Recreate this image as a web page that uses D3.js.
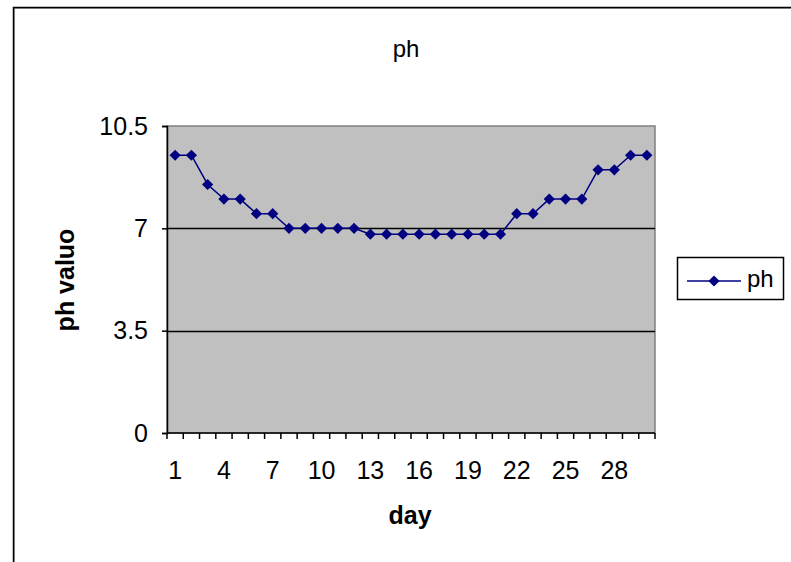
<!DOCTYPE html>
<html>
<head>
<meta charset="utf-8">
<script src="https://cdn.jsdelivr.net/npm/d3@7"></script>
<style>
  html, body { margin: 0; padding: 0; background: #fff; }
  svg { display: block; font-family: "Liberation Sans", Arial, sans-serif; }
</style>
</head>
<body>
<svg id="chart" width="791" height="562"></svg>
<script>
const days = d3.range(1, 31);
const phValues = [9.5, 9.5, 8.5, 8, 8, 7.5, 7.5, 7, 7, 7, 7, 7, 6.8, 6.8, 6.8, 6.8, 6.8, 6.8, 6.8, 6.8, 6.8, 7.5, 7.5, 8, 8, 8, 9, 9, 9.5, 9.5];
const yTicks = [0, 3.5, 7, 10.5];
const xLabelDays = [1, 4, 7, 10, 13, 16, 19, 22, 25, 28];
const seriesName = "ph";

const FONT = "Liberation Sans, Arial, sans-serif";
const svg = d3.select("#chart");
const W = 791, H = 562;
const plot = { left: 167, right: 655, top: 126, bottom: 433 };

// outer border with shadow
svg.append("rect").attr("x", 14.5).attr("y", 8.5).attr("width", W).attr("height", H).attr("fill", "none").attr("stroke", "#a0a0a0").attr("stroke-width", 1);
svg.append("rect").attr("x", 13.5).attr("y", 7.5).attr("width", W).attr("height", H).attr("fill", "none").attr("stroke", "#000").attr("stroke-width", 1.5);

const x = d3.scaleBand().domain(days).range([plot.left, plot.right]).padding(0);
const y = d3.scaleLinear().domain([0, 10.5]).range([plot.bottom, plot.top]);

// plot area
svg.append("rect")
  .attr("x", plot.left).attr("y", plot.top)
  .attr("width", plot.right - plot.left).attr("height", plot.bottom - plot.top)
  .attr("fill", "#c0c0c0").attr("stroke", "#808080").attr("stroke-width", 1.5);

// gridlines
svg.append("g").selectAll("line").data(yTicks.filter(t => t > 0 && t < 10.5)).join("line")
  .attr("x1", plot.left).attr("x2", plot.right)
  .attr("y1", d => Math.round(y(d)) + 0.5).attr("y2", d => Math.round(y(d)) + 0.5)
  .attr("stroke", "#000").attr("stroke-width", 1.5);

// y axis
const yAxis = d3.axisLeft(y).tickValues(yTicks).tickSize(5).tickPadding(14).tickFormat(d => String(d));
const gy = svg.append("g").attr("transform", `translate(${plot.left},0)`).call(yAxis)
  .attr("font-size", 25).attr("font-family", FONT);
gy.select(".domain").attr("stroke", "#000").attr("stroke-width", 1.5);
gy.selectAll(".tick line").attr("stroke", "#000").attr("stroke-width", 1.5);
gy.selectAll(".tick text").attr("fill", "#000");

// x axis: line + ticks at category boundaries
const gx = svg.append("g").attr("font-size", 25).attr("font-family", FONT);
gx.append("line").attr("x1", plot.left).attr("x2", plot.right).attr("y1", plot.bottom).attr("y2", plot.bottom).attr("stroke", "#000").attr("stroke-width", 1.5);
const boundaries = days.map(d => x(d)).concat([x(days[days.length - 1]) + x.bandwidth()]);
gx.selectAll("line.tk").data(boundaries).join("line").attr("class", "tk")
  .attr("x1", d => d).attr("x2", d => d)
  .attr("y1", plot.bottom).attr("y2", plot.bottom + 6)
  .attr("stroke", "#000").attr("stroke-width", 1.5);
gx.selectAll("text").data(xLabelDays).join("text")
  .attr("x", d => x(d) + x.bandwidth() / 2)
  .attr("y", 479)
  .attr("text-anchor", "middle")
  .attr("fill", "#000")
  .text(d => d);

// line
const line = d3.line().x((d, i) => x(days[i]) + x.bandwidth() / 2).y(d => y(d));
svg.append("path").datum(phValues).attr("d", line).attr("fill", "none").attr("stroke", "#000080").attr("stroke-width", 1.5);

const diamond = d3.symbol().type(d3.symbolDiamond2).size(80);
svg.append("g").selectAll("path").data(phValues).join("path")
  .attr("d", diamond)
  .attr("transform", (d, i) => `translate(${x(days[i]) + x.bandwidth() / 2},${y(d)})`)
  .attr("fill", "#000080");

// title
svg.append("text").attr("x", 406).attr("y", 57).attr("text-anchor", "middle").attr("font-size", 24).attr("fill", "#000").text(seriesName);

// axis titles
svg.append("text").attr("x", 410).attr("y", 524).attr("text-anchor", "middle").attr("font-size", 25).attr("font-weight", "bold").attr("fill", "#000").text("day");
svg.append("text").attr("transform", "translate(74,280) rotate(-90)").attr("text-anchor", "middle").attr("font-size", 25).attr("font-weight", "bold").attr("fill", "#000").text("ph valuo");

// legend
const lg = svg.append("g");
lg.append("rect").attr("x", 677.5).attr("y", 257.5).attr("width", 106).attr("height", 42).attr("fill", "#fff").attr("stroke", "#000").attr("stroke-width", 1.5);
lg.append("line").attr("x1", 687).attr("x2", 741).attr("y1", 281).attr("y2", 281).attr("stroke", "#000080").attr("stroke-width", 1.5);
lg.append("path").attr("d", diamond).attr("transform", "translate(714,281)").attr("fill", "#000080");
lg.append("text").attr("x", 747).attr("y", 287).attr("font-size", 24).attr("fill", "#000").text(seriesName);
</script>
</body>
</html>
